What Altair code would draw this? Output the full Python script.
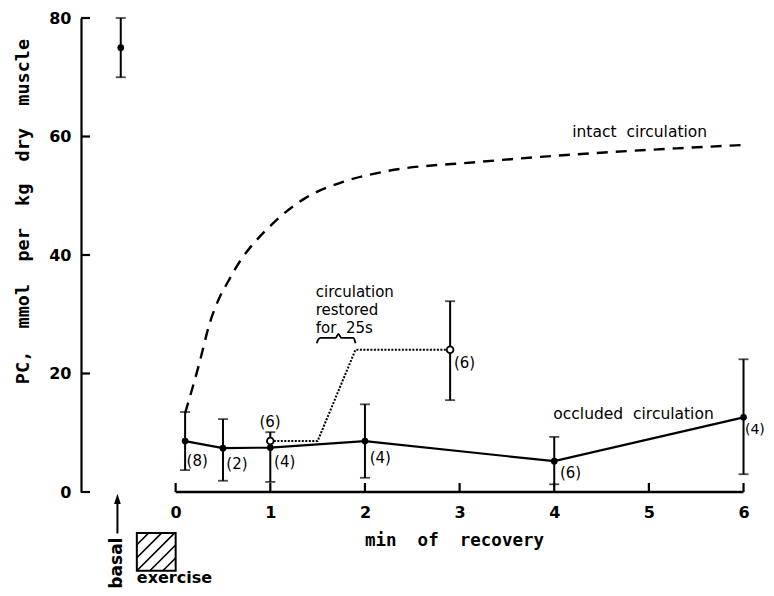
import altair as alt
import pandas as pd

# ---------------- data ----------------
# occluded circulation (filled circles, solid line)
occ_t = [0.1, 0.5, 1.0, 2.0, 4.0, 6.0]
occ_pc = [8.6, 7.4, 7.5, 8.6, 5.2, 12.6]
occ_lo = [3.7, 1.9, 1.7, 2.4, 1.3, 3.0]
occ_hi = [13.5, 12.3, 7.5, 14.8, 9.3, 22.4]
occ_n = ["(8)", "(2)", "(4)", "(4)", "(6)", "(4)"]

# circulation restored for 25 s (open circles)
res_t = [1.0, 2.9]
res_pc = [8.6, 24.0]
res_lo = [8.6, 15.5]
res_hi = [10.1, 32.2]
res_n = ["(6)", "(6)"]

# dotted path of the restored-circulation curve
dot_t = [1.0, 1.5, 1.9, 2.9]
dot_pc = [8.6, 8.6, 24.0, 24.0]

# intact circulation (dashed curve)
int_t = [0.1, 0.25, 0.36, 0.46, 0.55, 0.69, 0.86, 1.02, 1.1, 1.37, 1.76, 2.18, 3.2, 4.24, 5.29, 6.04]
int_pc = [13.3, 21.7, 28.5, 32.7, 35.4, 39.2, 42.6, 45.2, 46.4, 49.6, 52.3, 54.0, 55.7, 57.0, 58.0, 58.6]

# basal value
basal_t = [-0.58]
basal_pc = [75.0]
basal_lo = [70.0]
basal_hi = [80.0]

# axis ticks
x_ticks = [0, 1, 2, 3, 4, 5, 6]
y_ticks = [0, 20, 40, 60, 80]

# n-labels positions (data units); the last one sits at the right edge
lab_text = occ_n[:-1] + res_n
lab_t = [0.115, 0.535, 1.04, 2.05, 4.06, 0.885, 2.94]
lab_pc = [5.2, 4.7, 5.1, 5.7, 3.2, 11.8, 21.8]
edge_text = occ_n[-1:]
edge_t = [6.015]
edge_pc = [10.5]

SP = " \u00a0"  # wide word gap (kept by SVG)
FONT = "DejaVu Sans"
MONO = "DejaVu Sans Mono"
XS = alt.Scale(domain=[-1.0, 6.1], nice=False, zero=False)
YS = alt.Scale(domain=[0, 80], nice=False, zero=False)
W, H = 672, 474
PXX = W / 7.1
PXY = H / 80.0

x_axis = alt.Axis(values=x_ticks, domain=False, ticks=False, tickSize=0, grid=False,
                  labelPadding=12, labelFont=FONT, labelFontSize=16, labelFontWeight="bold",
                  labelColor="black", labelFlush=False,
                  title=SP.join(["min", "of", "recovery"]), titleFont=MONO, titleFontSize=17.5,
                  titleFontWeight="bold", titleColor="black", titleX=373, titleY=48,
                  titleAlign="center", titleBaseline="middle", titleAnchor="start")
y_axis = alt.Axis(values=y_ticks, domain=True, domainWidth=2.2, domainColor="black",
                  ticks=False, tickSize=0, grid=False, labelPadding=10, labelFont=FONT,
                  labelFontSize=16, labelFontWeight="bold", labelColor="black",
                  labelFlush=False,
                  title=SP.join(["PC,", "mmol", "per", "kg", "dry", "muscle"]),
                  titleFont=MONO, titleFontSize=18.5,
                  titleFontWeight="bold", titleColor="black", titleAngle=270,
                  titleX=-59, titleY=193, titleAlign="center", titleBaseline="middle",
                  titleAnchor="start")


def X(f="t"):
    return alt.X(f, type="quantitative", scale=XS, axis=x_axis)


def Y(f="pc"):
    return alt.Y(f, type="quantitative", scale=YS, axis=y_axis)


occ = pd.DataFrame({"t": occ_t, "pc": occ_pc, "lo": occ_lo, "hi": occ_hi})
res = pd.DataFrame({"t": res_t, "pc": res_pc, "lo": res_lo, "hi": res_hi})
bas = pd.DataFrame({"t": basal_t, "pc": basal_pc, "lo": basal_lo, "hi": basal_hi})
allbars = pd.concat([occ, res, bas], ignore_index=True)
caps = []
for _, r in allbars.iterrows():
    if r["hi"] > r["pc"]:
        caps.append({"t": r["t"], "pc": r["hi"]})
    if r["lo"] < r["pc"]:
        caps.append({"t": r["t"], "pc": r["lo"]})
caps = pd.DataFrame(caps)

occ_line = alt.Chart(occ).mark_line(color="black", strokeWidth=2.2).encode(x=X(), y=Y())

intact = alt.Chart(pd.DataFrame({"t": int_t, "pc": int_pc})).mark_line(
    color="black", strokeWidth=2.4, strokeDash=[11, 8], interpolate="monotone").encode(
    x=X(), y=Y())

dotted = alt.Chart(pd.DataFrame({"t": dot_t, "pc": dot_pc})).mark_line(
    color="black", strokeWidth=2, strokeDash=[2, 1.5]).encode(x=X(), y=Y())

bars = alt.Chart(allbars).mark_rule(color="black", strokeWidth=2).encode(
    x=X(), y=Y("lo"), y2="hi")
capm = alt.Chart(caps).mark_tick(color="black", orient="horizontal", size=10,
                                 thickness=1.8).encode(x=X(), y=Y())

filled = alt.Chart(pd.concat([occ, bas])).mark_point(
    filled=True, color="black", size=45, opacity=1).encode(x=X(), y=Y())
openc = alt.Chart(res).mark_point(
    filled=True, fill="white", stroke="black", strokeWidth=1.8, size=45, opacity=1).encode(
    x=X(), y=Y())

labels = alt.Chart(pd.DataFrame({"t": lab_t, "pc": lab_pc, "txt": lab_text})).mark_text(
    font=FONT, fontSize=15, align="left", baseline="middle", color="black").encode(
    x=X(), y=Y(), text="txt")
edge_lab = alt.Chart(pd.DataFrame({"t": edge_t, "pc": edge_pc, "txt": edge_text})).mark_text(
    font=FONT, fontSize=14, align="left", baseline="middle", color="black").encode(
    x=X(), y=Y(), text="txt")

# axis decorations: x axis line from 0 to 6, inward ticks
xline = alt.Chart(pd.DataFrame({"t": [x_ticks[0]], "t2": [x_ticks[-1]], "pc": [0]})).mark_rule(
    color="black", strokeWidth=2.4).encode(x=X(), x2="t2", y=Y())
xtk = alt.Chart(pd.DataFrame({"t": x_ticks})).mark_rule(color="black", strokeWidth=2.2).encode(
    x=X(), y=alt.value(H), y2=alt.value(H - 9))
ytk = alt.Chart(pd.DataFrame({"pc": y_ticks})).mark_rule(color="black", strokeWidth=2.2).encode(
    y=Y(), x=alt.value(0), x2=alt.value(9))

# annotations
ann = pd.DataFrame({
    "t": [4.19, 3.99],
    "pc": [60.8, 13.2],
    "txt": [SP.join(["intact", "circulation"]), SP.join(["occluded", "circulation"])],
})
ann_m = alt.Chart(ann).mark_text(font=FONT, fontSize=15.5, align="left", baseline="middle",
                                 color="black").encode(x=X(), y=Y(), text="txt")
restored = alt.Chart(pd.DataFrame({"t": [1.48], "pc": [33.8],
                                   "txt": ["circulation\nrestored\nfor" + SP + "25s"]})).mark_text(
    font=FONT, fontSize=15, align="left", baseline="middle",
    lineBreak="\n", lineHeight=18, color="black").encode(x=X(), y=Y(), text="txt")

brace_t = [1.49, 1.51, 1.53, 1.69, 1.72, 1.75, 1.88, 1.90]
brace_pc = [25.1, 25.8, 26.0, 26.0, 26.7, 26.0, 26.0, 25.1]
brace = alt.Chart(pd.DataFrame({"t": brace_t, "pc": brace_pc})).mark_line(
    color="black", strokeWidth=1.8, interpolate="monotone").encode(x=X(), y=Y())

# basal arrow + exercise box below the axis
arrow = alt.Chart(pd.DataFrame({"t": [-0.615], "a": [-7.0], "b": [-1.8]})).mark_rule(
    color="black", strokeWidth=2).encode(x=X(), y=Y("a"), y2="b")
arrow_head = alt.Chart(pd.DataFrame({"t": [-0.615], "pc": [-1.3]})).mark_point(
    shape="M-0.8,1 L0,-1.4 L0.8,1 Z", filled=True, color="black", size=70, opacity=1).encode(
    x=X(), y=Y())
basal_txt = alt.Chart(pd.DataFrame({"t": [-0.615], "pc": [-12.0], "txt": ["basal"]})).mark_text(
    font=FONT, fontSize=17, fontWeight="bold", angle=270, align="center", baseline="middle",
    color="black").encode(x=X(), y=Y(), text="txt")

box_t0, box_t1 = -0.41, 0.0
box_v0, box_v1 = -13.3, -6.9
box = alt.Chart(pd.DataFrame({"t": [box_t0], "t2": [box_t1], "pc": [box_v0], "pc2": [box_v1]})).mark_rect(
    fill="white", stroke="black", strokeWidth=2).encode(x=X(), x2="t2", y=Y(), y2="pc2")
bw = (box_t1 - box_t0) * PXX
bh = (box_v1 - box_v0) * PXY
hatch = []
for c in [-26, -13, 0, 13, 26]:
    u0 = max(0.0, -c)
    u1 = min(bw, bh - c)
    if u1 > u0:
        hatch.append({"t": box_t0 + u0 / PXX, "pc": box_v0 + (u0 + c) / PXY,
                      "t2": box_t0 + u1 / PXX, "pc2": box_v0 + (u1 + c) / PXY})
hatch_m = alt.Chart(pd.DataFrame(hatch)).mark_rule(color="black", strokeWidth=1.6).encode(
    x=X(), y=Y(), x2="t2", y2="pc2")
ex_txt = alt.Chart(pd.DataFrame({"t": [box_t0], "pc": [-15.3], "txt": ["exercise"]})).mark_text(
    font=FONT, fontSize=16, fontWeight="bold", align="left", baseline="alphabetic",
    color="black").encode(x=X(), y=Y(), text="txt")

chart = alt.layer(
    occ_line, intact, dotted, xline, xtk, ytk, bars, capm, filled, openc, labels, edge_lab,
    ann_m, restored, brace, arrow, arrow_head, basal_txt, box, hatch_m, ex_txt,
).properties(
    width=W, height=H,
    autosize=alt.AutoSizeParams(type="none"),
    padding={"left": 73, "top": 10, "right": 13, "bottom": 96},
    background="white",
).configure_view(stroke=None).configure_axis(grid=False)

chart.save("out.html", embed_options={"renderer": "svg", "actions": False})
